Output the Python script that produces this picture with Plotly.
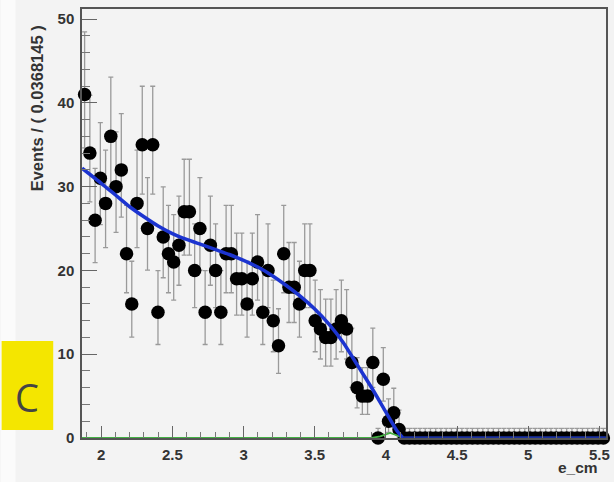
import numpy as np
import plotly.graph_objects as go

# ---------------- data ----------------
x_low = 1.865
bin_width = 0.0368145
n_bins = 100
counts = [41, 34, 26, 31, 28, 36, 30, 32, 22, 16,
          28, 35, 25, 35, 15, 24, 22, 21, 23, 27,
          27, 20, 25, 15, 23, 20, 15, 22, 22, 19,
          19, 16, 19, 21, 15, 20, 14, 11, 22, 18,
          18, 16, 20, 20, 14, 13, 12, 12, 13, 14,
          13, 9, 6, 5, 5, 9, 0, 7, 2, 3,
          1] + [0] * 39

# fitted model curve
fit_x = [1.865, 2.0, 2.1, 2.2, 2.3, 2.4, 2.5, 2.6, 2.7, 2.8, 2.9, 3.0,
         3.1, 3.2, 3.3, 3.4, 3.5, 3.6, 3.7, 3.8, 3.9, 4.0, 4.08, 4.12]
fit_y = [32.2, 30.4, 29.0, 27.6, 26.4, 25.3, 24.4, 23.7, 23.1, 22.5, 21.9, 21.2,
         20.4, 19.4, 18.2, 16.9, 15.4, 13.6, 11.4, 8.7, 6.0, 3.1, 0.8, 0.0]
flat_x = [4.12, 5.546]
flat_y = [0.0, 0.0]

# small signal component (green)
sig_x = [1.865, 3.90, 3.96, 4.03, 4.08, 4.12, 5.546]
sig_y = [0.0, 0.0, 0.2, 0.6, 0.3, 0.0, 0.0]

x_ticks = [2, 2.5, 3, 3.5, 4, 4.5, 5, 5.5]
y_ticks = [0, 10, 20, 30, 40, 50]

# ---------------- derived ----------------
c = np.array(counts, dtype=float)
centers = x_low + (np.arange(n_bins) + 0.5) * bin_width
err_hi = np.where(c > 0, 1.0 + np.sqrt(c + 0.75), 1.15)
err_lo = np.where(c > 0, np.sqrt(np.clip(c - 0.25, 0, None)), 0.0)

# ---------------- layout geometry ----------------
W, H = 614, 482
L, R, T, B = 82, 4, 9, 44
PW, PH = W - L - R, H - T - B


def px(xp):
    return (xp - L) / PW


def py(yp):
    return (H - B - yp) / PH


fig = go.Figure()

fig.add_trace(go.Scatter(
    x=centers, y=c, mode="markers",
    marker=dict(color="black", size=13.5),
    error_y=dict(type="data", symmetric=False, array=err_hi, arrayminus=err_lo,
                 color="#9a9a9a", thickness=1.3, width=2.5),
    cliponaxis=False, showlegend=False, hoverinfo="skip"))

fig.add_trace(go.Scatter(
    x=sig_x, y=sig_y, mode="lines",
    line=dict(color="#44b044", width=1.8),
    cliponaxis=False, showlegend=False, hoverinfo="skip"))

fig.add_trace(go.Scatter(
    x=fit_x, y=fit_y, mode="lines",
    line=dict(color="#1c34d0", width=3.5, shape="spline", smoothing=0.6),
    cliponaxis=False, showlegend=False, hoverinfo="skip"))

fig.add_trace(go.Scatter(
    x=flat_x, y=flat_y, mode="lines",
    line=dict(color="#1a30a0", width=3.5),
    cliponaxis=False, showlegend=False, hoverinfo="skip"))

axis_font = dict(family="Liberation Sans, Arial, sans-serif", size=15,
                 color="#333333", weight="bold")

fig.update_layout(
    width=W, height=H,
    margin=dict(l=L, r=R, t=T, b=B),
    paper_bgcolor="#f3f3f3",
    plot_bgcolor="#f3f3f3",
    xaxis=dict(
        range=[x_low, x_low + n_bins * bin_width],
        tickvals=x_ticks, ticktext=[f"{v:g}" for v in x_ticks],
        ticks="inside", ticklen=12, tickwidth=1, tickcolor="#666",
        minor=dict(dtick=0.1, tick0=2, ticks="inside", ticklen=6,
                   tickcolor="#777", tickwidth=1),
        showline=True, mirror=True, linecolor="#555", linewidth=1.5,
        showgrid=False, zeroline=False, tickfont=axis_font,
        ticklabelstandoff=2),
    yaxis=dict(
        range=[0, 51.2],
        tickvals=y_ticks,
        ticks="inside", ticklen=15, tickwidth=1, tickcolor="#666",
        minor=dict(dtick=2, tick0=0, ticks="inside", ticklen=8,
                   tickcolor="#777", tickwidth=1),
        showline=True, mirror=True, linecolor="#555", linewidth=1.5,
        showgrid=False, zeroline=False, tickfont=axis_font,
        ticklabelstandoff=3),
    shapes=[
        dict(type="rect", xref="paper", yref="paper",
             x0=px(0), x1=px(15), y0=py(H), y1=py(0),
             fillcolor="#fbfbfb", line=dict(width=0), layer="below"),
        dict(type="rect", xref="paper", yref="paper",
             x0=px(1), x1=px(53), y0=py(430), y1=py(341),
             fillcolor="#f4e600", line=dict(width=0), layer="above"),
    ],
    annotations=[
        dict(text="Events / ( 0.0368145 )", xref="paper", yref="paper",
             x=px(37), y=py(108), xanchor="center", yanchor="middle",
             textangle=-90, showarrow=False,
             font=dict(family="Liberation Sans, Arial, sans-serif", size=16.5,
                       color="#333333", weight="bold")),
        dict(text="e_cm", xref="paper", yref="paper",
             x=px(604), y=py(467), xanchor="right", yanchor="middle",
             showarrow=False,
             font=dict(family="Liberation Sans, Arial, sans-serif", size=15.5,
                       color="#333333", weight="bold")),
        dict(text="C", xref="paper", yref="paper",
             x=px(27), y=py(397), xanchor="center", yanchor="middle",
             showarrow=False,
             font=dict(family="Open Sans, Noto Sans, sans-serif", size=38,
                       color="#444444")),
    ],
)

fig.write_html("out.html")
